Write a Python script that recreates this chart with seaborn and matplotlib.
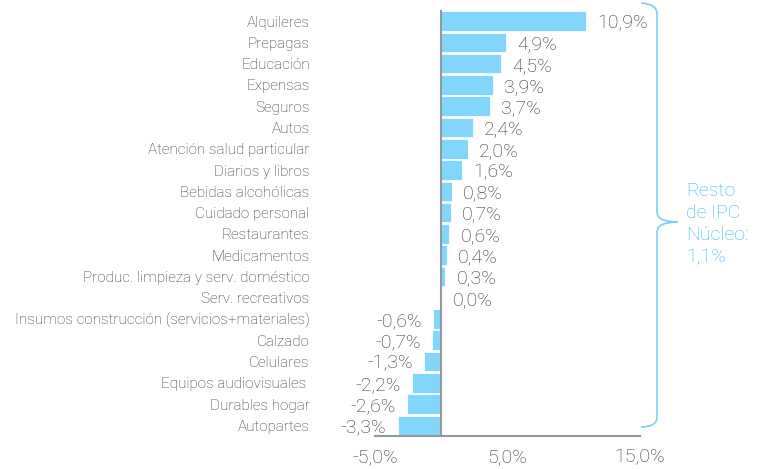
import matplotlib
matplotlib.use('Agg')
import matplotlib.pyplot as plt
from matplotlib.path import Path
from matplotlib.patches import PathPatch
import seaborn as sns
import pandas as pd

categories = ['Alquileres', 'Prepagas', 'Educación', 'Expensas', 'Seguros', 'Autos',
              'Atención salud particular', 'Diarios y libros', 'Bebidas alcohólicas',
              'Cuidado personal', 'Restaurantes', 'Medicamentos',
              'Produc. limpieza y serv. doméstico', 'Serv. recreativos',
              'Insumos construcción (servicios+materiales)', 'Calzado', 'Celulares',
              'Equipos audiovisuales ', 'Durables hogar', 'Autopartes']
values = [10.9, 4.9, 4.5, 3.9, 3.7, 2.4, 2.0, 1.6, 0.8, 0.7, 0.6, 0.4, 0.3, 0.0,
          -0.6, -0.7, -1.3, -2.2, -2.6, -3.3]
xticks = [-5, 5, 15]
note_text = 'Resto\nde IPC\nNúcleo:\n1,1%'

BAR = '#82d6fc'
GRID = '#8e9c9c'
TXT = '#333333'
NOTE = '#35b9f0'

sns.set_style('white')
plt.rcParams['font.family'] = ['Roboto', 'DejaVu Sans']
plt.rcParams['font.weight'] = 'light'

df = pd.DataFrame({'cat': categories, 'val': values})

W, H = 761, 469
fig = plt.figure(figsize=(W / 100, H / 100), dpi=100)
ax = fig.add_axes([375 / W, 1 - 436 / H, 265 / W, 425.5 / H])

sns.barplot(df, x='val', y='cat', orient='h', color=BAR, saturation=1,
            width=0.92, edgecolor='white', linewidth=0.6, ax=ax)

ax.set_xlim(-5, 15)
ax.set_ylim(19.5, -0.5)
ax.set_xticks(xticks)
ax.set_xticklabels([f'{t:.1f}%'.replace('.', ',') for t in xticks],
                   fontsize=14, color=TXT)
ax.tick_params(axis='x', length=0, pad=9)
ax.tick_params(axis='y', length=0, pad=47, labelsize=11, labelcolor=TXT)
ax.set_xlabel('')
ax.set_ylabel('')
for s in ['top', 'right', 'left']:
    ax.spines[s].set_visible(False)
ax.spines['bottom'].set_color(GRID)
ax.spines['bottom'].set_linewidth(1.5)
ax.axvline(0, color=GRID, lw=1.5, zorder=3)

for i, v in enumerate(values):
    lbl = f'{v:.1f}%'.replace('.', ',')
    off = 8 if v >= 0 else -8
    ax.annotate(lbl, (v, i), xytext=(off, -1.5), textcoords='offset points',
                ha='left' if v >= 0 else 'right', va='center',
                fontsize=14, color=TXT)

# curly bracket on the right (pixel coords, y from top)
def px(x, y):
    return (x / W, 1 - y / H)

pts = [px(641, 3), px(657, 4), px(657, 14),
       px(657, 212), px(657, 222), px(678, 222),
       px(657, 222), px(657, 232),
       px(657, 417), px(657, 427), px(641, 427)]
codes = [Path.MOVETO, Path.CURVE3, Path.CURVE3,
         Path.LINETO, Path.CURVE3, Path.CURVE3,
         Path.CURVE3, Path.CURVE3,
         Path.LINETO, Path.CURVE3, Path.CURVE3]
fig.add_artist(PathPatch(Path(pts, codes), transform=fig.transFigure,
                         fill=False, edgecolor='#7fd0f5', lw=1.2))
fig.text(686 / W, 1 - 224 / H, note_text, color=NOTE, fontsize=14,
         ha='left', va='center', linespacing=1.3)

fig.savefig('out.png', dpi=100)
